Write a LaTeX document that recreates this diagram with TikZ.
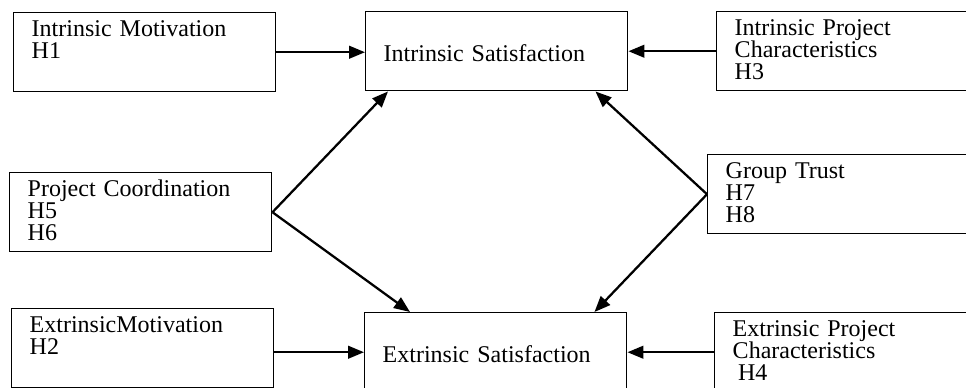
\documentclass[tikz,border=0pt]{standalone}
\usepackage{fontspec}
\setmainfont{Liberation Serif}
\usepackage{tikz}
\usetikzlibrary{calc,arrows.meta}

\begin{document}
\begin{tikzpicture}[x=0.75pt,y=-0.75pt,
  box/.style={draw,line width=1.1pt,anchor=north west,align=left,text width=169.5pt,
    inner xsep=13.5pt,inner ysep=0pt,text height=18pt,text depth=41.25pt,
    font=\fontsize{18}{16.5}\selectfont},
  satbox/.style={box,text height=37.5pt,text depth=21.75pt},
  widebox/.style={box,text width=240pt},
  link/.style={line width=1.7pt,-{Triangle[length=12pt,width=9.5pt]}}]
\useasboundingbox (0,0) rectangle (966,388);
\clip (0,0) rectangle (966,388);
\node[box] (intmot) at (13,12) {Intrinsic Motivation\\H1};
\node[satbox] (intsat) at (365,11) {Intrinsic Satisfaction};
\node[widebox] (intproj) at (716,11) {Intrinsic Project\\Characteristics\\H3};
\node[box] (coord) at (9,172) {Project Coordination\\H5\\H6};
\node[widebox] (trust) at (707,154) {Group Trust\\H7\\H8};
\node[box] (extmot) at (11,308) {ExtrinsicMotivation\\H2};
\node[satbox] (extsat) at (364,312) {Extrinsic Satisfaction};
\node[widebox] (extproj) at (714,312) {Extrinsic Project\\Characteristics\\\hspace*{0.22em}H4};
\draw[link] (intmot.east) -- (intmot.east -| intsat.west);
\draw[link] (intproj.west) -- (intproj.west -| intsat.east);
\draw[link] (coord.east) -- ($(intsat.south west)+(23,0)$);
\draw[link] (coord.east) -- ($(extsat.north west)+(46,0)$);
\draw[link] (trust.west) -- ($(intsat.south east)+(-33,0)$);
\draw[link] (trust.west) -- ($(extsat.north east)+(-33,0)$);
\draw[link] (extsat.west -| extmot.east) -- (extsat.west);
\draw[link] (extsat.east -| extproj.west) -- (extsat.east);
\end{tikzpicture}
\end{document}
